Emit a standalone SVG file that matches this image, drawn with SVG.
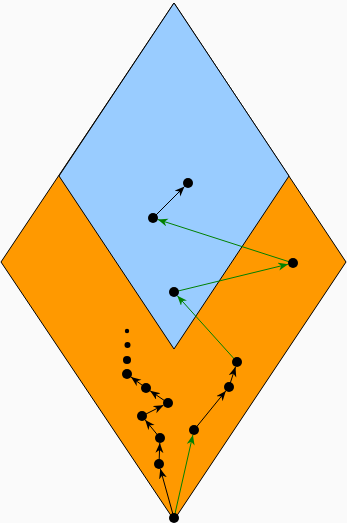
<svg xmlns="http://www.w3.org/2000/svg" width="347" height="523" viewBox="0 0 347 523">
<style>
.reg{stroke:#000;stroke-width:1;stroke-linejoin:miter}
.dot{fill:#000}
.b{stroke:#000;stroke-width:1;fill:none;marker-end:url(#ab)}
.g{stroke:#008000;stroke-width:1;fill:none;marker-end:url(#ag)}
</style>
<defs>
<marker id="ab" markerUnits="userSpaceOnUse" markerWidth="11" markerHeight="9" refX="10" refY="4" orient="auto"><path d="M0,0 L10,4 L0,8 L3,4 z" fill="#000"/></marker>
<marker id="ag" markerUnits="userSpaceOnUse" markerWidth="11" markerHeight="9" refX="10" refY="4" orient="auto"><path d="M0,0 L10,4 L0,8 L3,4 z" fill="#008000"/></marker>
</defs>
<rect width="347" height="523" fill="#fafafa"/>
<g id="orange"><polygon class="reg" fill="#ff9900" points="174,3 1,262 174,520 346,262"/></g>
<g id="blue"><polygon class="reg" fill="#99ccff" points="174,3 59,176 174,349 289,176"/></g>
<g id="connectors">
<line class="b" x1="153" y1="218" x2="184.5" y2="186.5"/>
<line class="g" x1="293" y1="263" x2="157.8" y2="219.5"/>
<line class="g" x1="174" y1="292" x2="288.1" y2="264.2"/>
<line class="g" x1="237" y1="362" x2="177.3" y2="295.7"/>
<line class="b" x1="229" y1="387" x2="235.5" y2="366.8"/>
<line class="b" x1="194" y1="430" x2="225.8" y2="390.9"/>
<line class="g" x1="174" y1="518" x2="192.9" y2="434.9"/>
<line class="b" x1="174" y1="518" x2="160.3" y2="468.8"/>
<line class="b" x1="159" y1="464" x2="159.8" y2="443"/>
<line class="b" x1="160" y1="438" x2="145.2" y2="419.9"/>
<line class="b" x1="142" y1="416" x2="163.5" y2="405.2"/>
<line class="b" x1="168" y1="403" x2="150.1" y2="390.8"/>
<line class="b" x1="146" y1="388" x2="131" y2="377"/>
</g>
<g id="dots">
<circle id="p1" class="dot" cx="188" cy="183" r="5"/>
<circle id="p2" class="dot" cx="153" cy="218" r="5"/>
<circle id="p3" class="dot" cx="293" cy="263" r="5"/>
<circle id="p4" class="dot" cx="174" cy="292" r="5"/>
<circle id="p5" class="dot" cx="237" cy="362" r="5"/>
<circle id="p6" class="dot" cx="229" cy="387" r="5"/>
<circle id="p7" class="dot" cx="194" cy="430" r="5"/>
<circle id="p8" class="dot" cx="174" cy="518" r="5"/>
<circle id="p9" class="dot" cx="159" cy="464" r="5"/>
<circle id="p10" class="dot" cx="160" cy="438" r="5"/>
<circle id="p11" class="dot" cx="142" cy="416" r="5"/>
<circle id="p12" class="dot" cx="168" cy="403" r="5"/>
<circle id="p13" class="dot" cx="146" cy="388" r="5"/>
<circle id="p14" class="dot" cx="127" cy="374" r="5"/>
<circle id="p15" class="dot" cx="127" cy="360" r="4"/>
<circle id="p16" class="dot" cx="127.5" cy="345" r="3"/>
<circle id="p17" class="dot" cx="127" cy="331" r="2.2"/>
</g>
</svg>
